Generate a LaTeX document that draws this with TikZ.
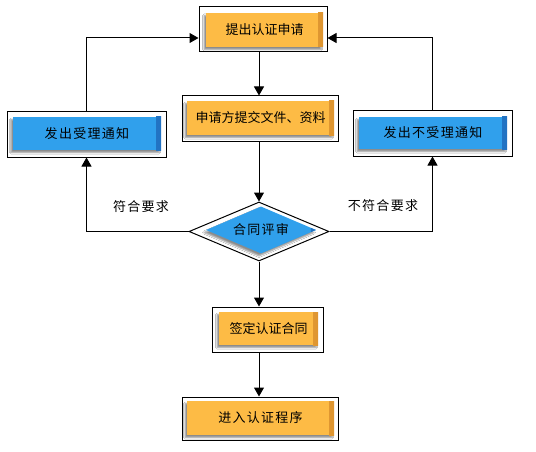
\documentclass[tikz,border=0pt]{standalone}
\usepackage{fontspec}
\usepackage{tikz}
\usepackage{xcolor}
\usetikzlibrary{arrows.meta,shapes.geometric,shadows.blur}
\newfontfamily\cjk{Noto Sans CJK SC}
\newfontfamily\cjkwide[LetterSpace=10]{Noto Sans CJK SC}
\definecolor{cOrange}{HTML}{FDBB45}
\definecolor{cOrangeDark}{HTML}{DE9530}
\definecolor{cBlue}{HTML}{30A0EC}
\definecolor{cBlueDark}{HTML}{2272C2}
\tikzset{
  frame/.style={draw=black,line width=1pt,fill=white,inner sep=0pt},
  colorbox/.style={inner sep=0pt,fill=#1,
    blur shadow={shadow xshift=-2pt,shadow yshift=-2.5pt,shadow blur steps=5,shadow blur radius=1.5pt,shadow opacity=45}},
  orangebox/.style={colorbox=cOrange,font=\fontsize{13pt}{13pt}\cjk,
    path picture={\shade[left color=cOrange,right color=cOrangeDark]
      ([xshift=-5pt]path picture bounding box.north east) rectangle (path picture bounding box.south east);}},
  bluebox/.style={colorbox=cBlue,font=\fontsize{13pt}{13pt}\cjkwide,
    path picture={\shade[left color=cBlue,right color=cBlueDark]
      ([xshift=-5pt]path picture bounding box.north east) rectangle (path picture bounding box.south east);}},
  flow/.style={-{Triangle[length=9pt,width=10pt]},line width=1pt},
  note/.style={font=\fontsize{13pt}{13pt}\cjkwide}
}
\begin{document}
\begin{tikzpicture}[x=1pt,y=-1pt]
        \useasboundingbox (0,0) rectangle (536,452);

        % Draw the boxes
        \node[frame,minimum width=128,minimum height=45] (apply) at (263,29.5) {};
        \node[orangebox,minimum width=117,minimum height=34] at (264.5,30) {提出认证申请};

        \node[frame,minimum width=156,minimum height=45] (submit) at (260,118.5) {};
        \node[orangebox,minimum width=147,minimum height=34] at (260.5,118) {申请方提交文件、资料};

        \node[frame,minimum width=159,minimum height=45] (accept) at (86.5,134.5) {};
        \node[bluebox,minimum width=148,minimum height=33] at (87,133.5) {发出受理通知};

        \node[frame,minimum width=159,minimum height=45] (reject) at (432.5,133.5) {};
        \node[bluebox,minimum width=148,minimum height=32] at (433,133) {发出不受理通知};

        % Draw the review diamond
        \node[frame,diamond,aspect=2.4,minimum width=140,minimum height=59] (review) at (259,231.5) {};
        \node[bluebox,diamond,aspect=2.4,minimum width=110,minimum height=47,font=\fontsize{13pt}{13pt}\cjkwide] at (261,230) {合同评审};

        \node[frame,minimum width=111,minimum height=45] (sign) at (267.5,329.5) {};
        \node[orangebox,minimum width=99,minimum height=33] at (268.5,328.5) {签定认证合同};

        \node[frame,minimum width=156,minimum height=43] (start) at (260,418.5) {};
        \node[orangebox,minimum width=147,minimum height=34,font=\fontsize{13pt}{13pt}\cjkwide] at (260.5,418) {进入认证程序};

        % Draw the main flow
        \draw[flow] (apply.south -| 259,0) -- (259,0 |- submit.north);
        \draw[flow] (submit.south -| 259,0) -- (review.north);
        \draw[flow] (review.south) -- (review.south |- sign.north);
        \draw[flow] (review.south |- sign.south) -- (review.south |- start.north);

        % Draw the side branches
        \draw[flow] (review.west) -| (accept.south);
        \draw[flow] (review.east) -| (reject.south);
        \draw[flow] (accept.north) |- ([yshift=-8.5pt]apply.west);
        \draw[flow] (reject.north) |- ([yshift=-8.5pt]apply.east);

        % Draw the labels
        \node[note] (yes) at (141,207) {符合要求};
        \node[note] (no) at (383,206) {不符合要求};
    \end{tikzpicture}
\end{document}
